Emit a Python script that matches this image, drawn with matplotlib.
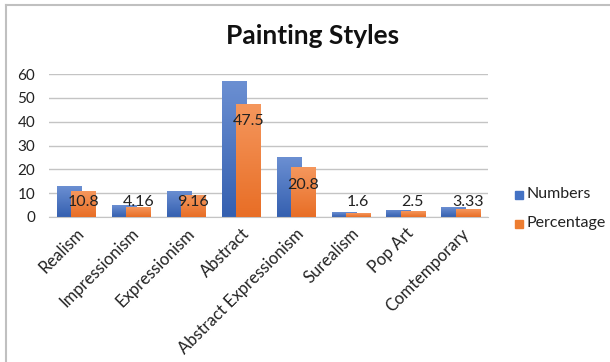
import numpy as np
import matplotlib
matplotlib.use('Agg')
import matplotlib.pyplot as plt
from matplotlib.colors import LinearSegmentedColormap
from matplotlib.patches import Rectangle

categories = ["Realism", "Impressionism", "Expressionism", "Abstract",
              "Abstract Expressionism", "Surealism", "Pop Art", "Comtemporary"]
numbers = [13, 5, 11, 57, 25, 2, 3, 4]
percentage = [10.8, 4.16, 9.16, 47.5, 20.8, 1.6, 2.5, 3.33]
pct_labels = ["10.8", "4.16", "9.16", "47.5", "20.8", "1.6", "2.5", "3.33"]

plt.rcParams['font.family'] = ['Lato', 'DejaVu Sans']

fig = plt.figure(figsize=(6.1, 3.62), dpi=100, facecolor='white')
ax = fig.add_axes([49 / 610, 1 - 217 / 362, 439 / 610, 143 / 362])

x = np.arange(len(categories))
w = 0.44
off = 0.13
b1 = ax.bar(x - off, numbers, w, color='#4472c4', zorder=2)
b2 = ax.bar(x + off, percentage, w, color='#ed7d31', zorder=3)


def shade(bars, top, bottom, z):
    cmap = LinearSegmentedColormap.from_list('g', [bottom, top])
    grad = np.linspace(0, 1, 64).reshape(-1, 1)
    for b in bars:
        x0, y0 = b.get_x(), b.get_y()
        im = ax.imshow(grad, cmap=cmap, origin='lower', aspect='auto',
                       extent=[x0, x0 + b.get_width(), y0, y0 + b.get_height()],
                       zorder=z)
        im.set_clip_path(b)
        b.set_facecolor('none')


shade(b1, '#6b8fd2', '#3560b0', 2)
shade(b2, '#f5975d', '#e86e26', 3)

for xi, v, lab in zip(x, percentage, pct_labels):
    ax.text(xi + off, max(v - 7.2, 6.5), lab, ha='center', va='center',
            fontsize=11.5, color='#222222', zorder=5)

ax.set_xlim(-0.5, len(categories) - 0.5)
ax.set_ylim(0, 60)
ax.set_yticks(range(0, 61, 10))
ax.yaxis.grid(True, color='#c4c4c4', linewidth=1)
ax.set_axisbelow(True)
for s in ['top', 'right', 'left']:
    ax.spines[s].set_visible(False)
ax.spines['bottom'].set_color('#c4c4c4')
ax.tick_params(axis='both', length=0, labelsize=11, colors='#222222')
ax.tick_params(axis='y', pad=10)
ax.tick_params(axis='x', pad=6, labelsize=12)
ax.set_xticks(x)
ax.set_xticklabels(categories, rotation=45, ha='right', rotation_mode='anchor')

fig.text(313 / 610, 1 - 36 / 362, "Painting Styles", ha='center', va='center',
         fontsize=19, fontweight='bold', color='#111111')

# legend
fig.patches.append(Rectangle((515 / 610, 1 - 199 / 362), 8 / 610, 8 / 362,
                             transform=fig.transFigure, color='#4472c4'))
fig.patches.append(Rectangle((515 / 610, 1 - 228 / 362), 8 / 610, 8 / 362,
                             transform=fig.transFigure, color='#ed7d31'))
fig.text(527 / 610, 1 - 194 / 362, "Numbers", ha='left', va='center',
         fontsize=11.5, color='#222222')
fig.text(527 / 610, 1 - 223 / 362, "Percentage", ha='left', va='center',
         fontsize=11.5, color='#222222')

# chart border
fig.add_artist(plt.Line2D([6 / 610, 6 / 610], [0, 1 - 5 / 362],
                          transform=fig.transFigure, color='#c0c0c0', lw=1.5))
fig.add_artist(plt.Line2D([6 / 610, 1], [1 - 5 / 362, 1 - 5 / 362],
                          transform=fig.transFigure, color='#c0c0c0', lw=1.5))

fig.savefig('out.png', dpi=100, facecolor='white')
